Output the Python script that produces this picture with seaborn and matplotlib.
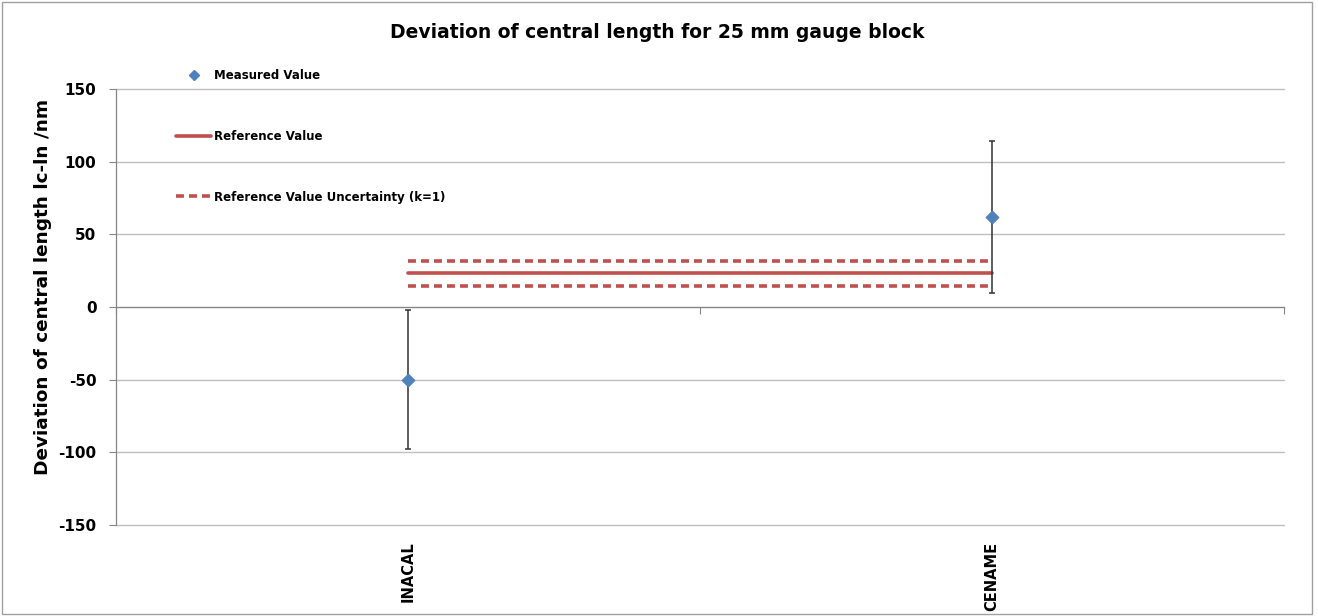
import matplotlib
matplotlib.use("Agg")
import matplotlib.pyplot as plt
import seaborn as sns
import pandas as pd
from matplotlib.patches import Rectangle
from matplotlib.lines import Line2D

# ---- data ----
labs = ["INACAL", "CENAME"]
measured = [-50.0, 62.0]
uncert = [48.0, 52.5]
ref_value = 23.2
ref_unc = 8.7
yticks = [-150, -100, -50, 0, 50, 100, 150]

sns.set_theme(style="white")
plt.rcParams['font.family'] = ['DejaVu Sans']
plt.rcParams['text.color'] = 'black'
plt.rcParams['axes.labelcolor'] = 'black'
plt.rcParams['xtick.color'] = 'black'
plt.rcParams['ytick.color'] = 'black'

fig = plt.figure(figsize=(13.18, 6.16), dpi=100)
ax = fig.add_axes([116/1318, 91/616, 1168/1318, 436/616])

xpos = list(range(len(labs)))
df = pd.DataFrame({"x": xpos, "y": measured, "e": uncert})
ref_df = pd.DataFrame({"x": xpos * 3,
                       "y": [ref_value]*2 + [ref_value + ref_unc]*2 + [ref_value - ref_unc]*2,
                       "kind": ["ref"]*2 + ["up"]*2 + ["lo"]*2})

red = "#C0504D"
blue = "#4F81BD"

# gridlines
for t in yticks:
    if t != 0:
        ax.axhline(t, color="#BFBFBF", lw=1.0, zorder=0, clip_on=False)

# reference lines
sns.lineplot(data=ref_df[ref_df.kind == "ref"], x="x", y="y", color=red, lw=2.6, ax=ax, zorder=3)
for k in ["up", "lo"]:
    sns.lineplot(data=ref_df[ref_df.kind == k], x="x", y="y", color=red, lw=2.6,
                 ax=ax, zorder=3, linestyle=(0, (2.2, 1.4)))

# error bars
ax.errorbar(df.x, df.y, yerr=df.e, fmt="none", ecolor="#333333", elinewidth=1.1,
            capsize=2.5, capthick=1.1, zorder=4)
sns.scatterplot(data=df, x="x", y="y", marker="D", s=45, color=blue, edgecolor=blue,
                ax=ax, zorder=5)

ax.set_xlim(-0.5, 1.5)
ax.set_ylim(-150, 150)
ax.set_yticks(yticks)
ax.set_yticklabels([str(t) for t in yticks], fontsize=11, fontweight="bold")
ax.tick_params(axis="y", direction="out", length=5, width=0.8, color="#868686", pad=9, left=True)

for s in ["top", "right"]:
    ax.spines[s].set_visible(False)
ax.spines["left"].set_color("#868686")
ax.spines["left"].set_linewidth(0.9)
ax.spines["bottom"].set_position(("data", 0))
ax.spines["bottom"].set_color("#868686")
ax.spines["bottom"].set_linewidth(1.0)
ax.set_xticks([-0.5, 0.5, 1.5])
ax.set_xticklabels([])
ax.tick_params(axis="x", direction="out", length=5, width=0.8, color="#868686", bottom=True)

sec = ax.secondary_xaxis(location=0.0)
sec.set_xticks(xpos)
sec.set_xticklabels(labs, rotation=90, fontsize=10.5, fontweight="bold", va="top")
sec.tick_params(length=0, pad=12)
sec.spines["bottom"].set_visible(False)

ax.set_xlabel("")
ax.set_ylabel("Deviation of central length lc-ln /nm", fontsize=13.3, fontweight="bold")
ax.yaxis.set_label_coords(-0.055, 0.545)

fig.text(657/1318, 1 - 33/616, "Deviation of central length for 25 mm gauge block",
         ha="center", va="center", fontsize=13.5, fontweight="bold")

handles = [
    Line2D([], [], marker="D", color=blue, linestyle="none", markersize=5.5),
    Line2D([], [], color=red, lw=2.6),
    Line2D([], [], color=red, lw=2.6, linestyle=(0, (2.2, 1.4))),
]
leg = fig.legend(handles, ["Measured Value", "Reference Value", "Reference Value Uncertainty (k=1)"],
                 loc="upper left", bbox_to_anchor=(176/1318, 1 - 69/616), frameon=False,
                 prop={"weight": "bold", "size": 8.5}, handlelength=3.0, handletextpad=0.2,
                 labelspacing=4.05, borderpad=0, borderaxespad=0)

fig.patches.append(Rectangle((2/1318, 2/616), 1310/1318, 612/616, transform=fig.transFigure,
                             fill=False, edgecolor="#A0A0A0", lw=1.0))

fig.savefig("out.png", dpi=100)
